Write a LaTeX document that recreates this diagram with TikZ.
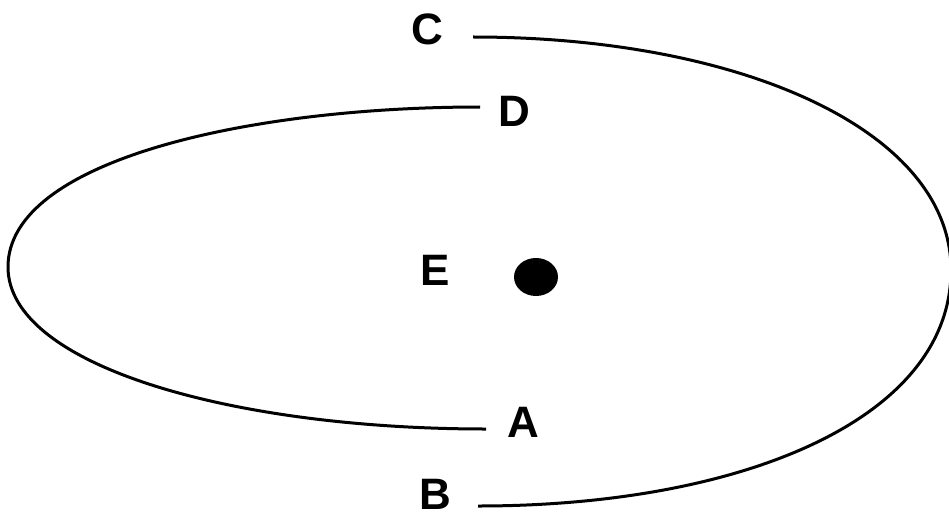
\documentclass[tikz,border=0pt]{standalone}
\usepackage{fontspec}
\setmainfont{Liberation Sans}
\usetikzlibrary{shapes.geometric}
\begin{document}
\begin{tikzpicture}[x=1pt,y=-1pt,
  lbl/.style={inner sep=0pt, font=\fontsize{44}{50}\selectfont\bfseries},
  orbit/.style={line width=3pt, line join=round}]
\useasboundingbox (0,0) rectangle (949,516);
\fill[white] (0,0) rectangle (949,516);
\node[lbl] (C) at (427,29) {C};
\node[lbl] (D) at (514,111) {D};
\node[lbl] (E) at (435,270) {E};
\node[lbl] (A) at (523,422) {A};
\node[lbl] (B) at (435,494) {B};
\node[fill=black, ellipse, minimum width=44pt, minimum height=38pt, inner sep=0pt] (sun) at (536,277) {};
\coordinate (dEnd) at (480,107);
\coordinate (aEnd) at (486,429);
\coordinate (cEnd) at (473,37);
\coordinate (bEnd) at (478,506);
\coordinate (leftTip) at (8,267);
\coordinate (rightTip) at (951,270);
\draw[orbit] (dEnd) .. controls (250,107) and (8,160) .. (leftTip)
  .. controls (8,365) and (230,429) .. (aEnd);
\draw[orbit] (cEnd) .. controls (740,37) and (951,130) .. (rightTip)
  .. controls (951,420) and (740,506) .. (bEnd);
\end{tikzpicture}
\end{document}
